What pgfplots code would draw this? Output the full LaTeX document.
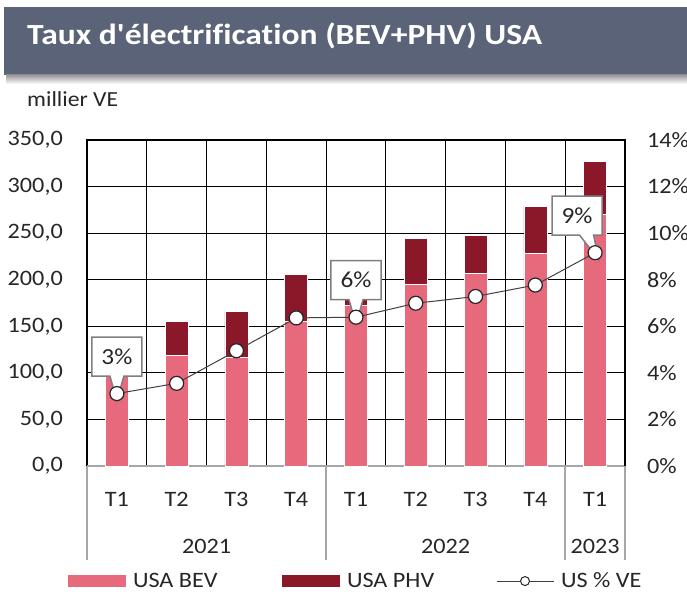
\documentclass[border=0pt]{standalone}
\usepackage{fontspec}
\setmainfont{Carlito}[FakeStretch=1.1, Ligatures=NoCommon]
\newfontfamily\titlefont{Carlito}[FakeStretch=1.15, Ligatures=NoCommon]
\usepackage{pgfplots}
\pgfplotsset{compat=1.18}
\usetikzlibrary{shapes.callouts}
\definecolor{bevpink}{RGB}{230,106,124}
\definecolor{phvred}{RGB}{139,24,41}
\definecolor{banner}{RGB}{90,99,119}
\definecolor{sepgray}{RGB}{166,166,166}
\definecolor{linegray}{RGB}{64,64,64}
\definecolor{boxgray}{RGB}{127,127,127}
\definecolor{txt}{RGB}{38,38,38}
\newcommand{\tf}{\fontsize{22}{26}\selectfont}
\pgfplotsset{
  bev/.style={fill=bevpink, draw=white, line width=0.6pt},
  phv/.style={fill=phvred, draw=white, line width=0.6pt},
  barlegend/.style={legend image code/.code={\fill[##1, draw=none] (0pt,-6pt) rectangle (58pt,6pt);}},
}
\tikzset{
  callbox/.style={rectangle callout, draw=boxgray, line width=1.5pt, fill=white,
    minimum width=50pt, minimum height=39pt, inner sep=0pt, callout pointer width=14pt,
    font=\fontsize{23}{27}\selectfont, text=txt},
}
\begin{document}
\begin{tikzpicture}
\fill[banner] (4pt,519pt) rectangle (700pt,587pt);
\shade[top color=black!40, bottom color=white] (6pt,510pt) rectangle (700pt,519pt);
\node[anchor=base west, inner sep=0pt, text=white, font=\titlefont\fontsize{29.2}{34}\selectfont\bfseries] at (27pt,549pt) {Taux d'électrification (BEV+PHV) USA};
\node[anchor=base west, inner sep=0pt, text=txt, font=\fontsize{21.5}{25}\selectfont] at (27pt,487pt) {millier VE};

\begin{axis}[
  at={(87pt,128pt)}, anchor=south west, scale only axis,
  width=538pt, height=326pt, clip=false,
  xmin=-0.5, xmax=8.5, ymin=0, ymax=350,
  ybar stacked, bar width=23pt,
  xtick={0,...,8}, xticklabels={T1,T2,T3,T4,T1,T2,T3,T4,T1},
  minor xtick={0.5,1.5,...,7.5},
  ytick={0,50,...,350},
  ymajorgrids, xminorgrids,
  major grid style={black, line width=1.1pt},
  minor grid style={black, line width=1.1pt},
  axis line style={black, line width=1.1pt},
  major tick length=0pt, minor tick length=0pt,
  tick label style={font=\tf, text=txt},
  /pgf/number format/fixed, /pgf/number format/fixed zerofill,
  /pgf/number format/precision=1, /pgf/number format/use comma,
  /pgf/number format/1000 sep={}, /pgf/number format/assume math mode=true,
  yticklabel style={anchor=east, inner sep=0pt, xshift=-24pt},
  xticklabel style={anchor=north, inner sep=0pt, yshift=-26pt},
]
\addplot[bev] coordinates {(0,98) (1,119) (2,117) (3,155) (4,172) (5,195) (6,207) (7,228) (8,270)};
\addplot[phv] coordinates {(0,8) (1,36) (2,49) (3,51) (4,9) (5,49) (6,41) (7,51) (8,57)};
\draw[sepgray, line width=1.5pt] (axis cs:-0.5,0) -- (axis cs:8.5,0);
\draw[sepgray, line width=1.5pt] (axis cs:-0.5,0) -- ++(0pt,-94pt);
\draw[sepgray, line width=1.5pt] (axis cs:3.5,0) -- ++(0pt,-94pt);
\draw[sepgray, line width=1.5pt] (axis cs:7.5,0) -- ++(0pt,-94pt);
\draw[sepgray, line width=1.5pt] (axis cs:8.5,0) -- ++(0pt,-94pt);
\node[anchor=base, inner sep=0pt, font=\tf, text=txt, yshift=-87pt] at (axis cs:1.5,0) {2021};
\node[anchor=base, inner sep=0pt, font=\tf, text=txt, yshift=-87pt] at (axis cs:5.5,0) {2022};
\node[anchor=base, inner sep=0pt, font=\tf, text=txt, yshift=-87pt] at (axis cs:8,0) {2023};
\end{axis}

\begin{axis}[
  at={(87pt,128pt)}, anchor=south west, scale only axis,
  width=538pt, height=326pt, clip=false,
  xmin=-0.5, xmax=8.5, ymin=0, ymax=14,
  axis x line=none, axis y line*=right,
  axis line style={black, line width=1.1pt},
  ytick={0,2,...,14},
  major tick length=0pt,
  tick label style={font=\tf, text=txt},
  /pgf/number format/assume math mode=true,
  yticklabel={\pgfmathprintnumber{\tick}\%},
  yticklabel style={anchor=west, inner sep=0pt, xshift=22pt},
  legend style={at={(axis description cs:-0.0353,-0.353)}, anchor=west,
    draw=none, fill=none, inner sep=0pt, outer sep=0pt,
    nodes={inner sep=0pt, font=\tf, text=txt},
    /tikz/every odd column/.append style={column sep=7pt}},
  legend columns=3, legend cell align=left,
]
\addlegendimage{bev, barlegend}
\addlegendentry{\makebox[149pt][l]{USA BEV}}
\addlegendimage{phv, barlegend}
\addlegendentry{\makebox[149pt][l]{USA PHV}}
\addplot[draw=none, mark=none, forget plot, nodes near coords, point meta=explicit symbolic,
  visualization depends on={\thisrow{dx} \as \dx},
  every node near coord/.style={callbox, anchor=center, xshift=\dx pt, yshift=37pt,
    callout relative pointer={({(0-\dx)/1.5*1pt},-24.5pt)}}]
  table[x=x, y=y, meta=lab, row sep=\\] {
  x y lab dx\\
  0 3.11 3\% 0\\
  4 6.39 6\% 0\\
  8 9.16 9\% -18\\
};
\addplot[linegray, line width=1pt, mark=*, mark size=7pt,
  mark options={fill=white, draw=black!85, line width=1.2pt},
  legend image code/.code={\draw[linegray, line width=1pt] (0pt,0pt) -- (57pt,0pt);
    \draw[black!85, line width=1pt, fill=white] (28.5pt,0pt) circle (4.5pt);}]
  coordinates {(0,3.11) (1,3.55) (2,4.95) (3,6.36) (4,6.39) (5,6.99) (6,7.28) (7,7.77) (8,9.16)};
\addlegendentry{US \% VE}
\end{axis}
\pgfresetboundingbox
\useasboundingbox (0pt,0pt) rectangle (687pt,594pt);
\end{tikzpicture}
\end{document}
